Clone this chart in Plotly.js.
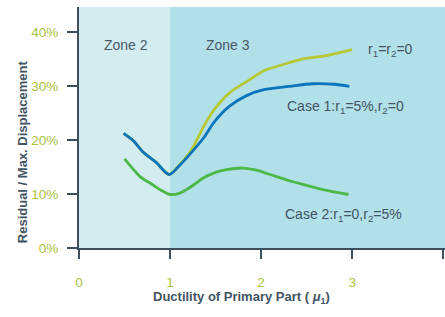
<!DOCTYPE html>
<html>
<head>
<meta charset="utf-8">
<script src="https://cdn.plot.ly/plotly-3.0.1.min.js"></script>
<style>html,body{margin:0;padding:0;background:#fff}#chart{width:445px;height:317px}</style>
</head>
<body>
<div id="chart"></div>
<script>
// Data (ductility mu1 vs residual/max displacement, %)
const case0X = [0.49, 0.6, 0.65, 0.7, 0.85, 0.99, 1.1, 1.2, 1.26, 1.37, 1.48, 1.66, 1.88, 2.03, 2.25, 2.46, 2.72, 3.0];
const case0Y = [21.2, 19.8, 18.8, 17.8, 15.8, 13.6, 15.3, 17.3, 18.9, 22.5, 25.5, 28.8, 31.2, 32.8, 34.0, 35.0, 35.6, 36.7];

const case1X = [0.49, 0.6, 0.65, 0.7, 0.85, 0.99, 1.1, 1.2, 1.37, 1.48, 1.65, 1.84, 2.03, 2.3, 2.57, 2.8, 2.97];
const case1Y = [21.2, 19.8, 18.8, 17.8, 15.8, 13.6, 15.2, 17.0, 20.4, 23.2, 26.2, 28.2, 29.3, 29.9, 30.4, 30.3, 29.9];

const case2X = [0.5, 0.6, 0.67, 0.8, 0.9, 1.0, 1.1, 1.18, 1.27, 1.37, 1.5, 1.62, 1.8, 1.95, 2.1, 2.32, 2.5, 2.68, 2.96];
const case2Y = [16.5, 14.5, 13.2, 11.8, 10.7, 9.9, 10.1, 10.8, 11.8, 13.0, 14.0, 14.5, 14.8, 14.4, 13.6, 12.4, 11.6, 10.8, 9.9];

const seriesNames = ['r<sub>1</sub>=r<sub>2</sub>=0', 'Case 1:r<sub>1</sub>=5%,r<sub>2</sub>=0', 'Case 2:r<sub>1</sub>=0,r<sub>2</sub>=5%'];
const zoneNames = ['Zone 2', 'Zone 3'];
const zoneBounds = [0, 1, 4.02];
const xTicks = [0, 1, 2, 3, 4];
const yTicks = [0, 10, 20, 30, 40];
const yTickText = ['0%', '10%', '20%', '30%', '40%'];
const xTitle = 'Ductility of Primary Part ( <b><i>μ</i></b><sub>1</sub>)';
const yTitle = 'Residual / Max. Displacement';

const axisColor = '#3d4e5d';
const tickColor = '#a9c23d';
const textColor = '#435463';
const font = 'Liberation Sans, Arial, sans-serif';

const traces = [
  {x: case0X, y: case0Y, mode: 'lines', name: seriesNames[0], line: {color: '#b6c834', width: 2.8, shape: 'spline', smoothing: 0.8}},
  {x: case1X, y: case1Y, mode: 'lines', name: seriesNames[1], line: {color: '#0b74ba', width: 2.8, shape: 'spline', smoothing: 0.8}},
  {x: case2X, y: case2Y, mode: 'lines', name: seriesNames[2], line: {color: '#4cb848', width: 2.8, shape: 'spline', smoothing: 0.8}}
];

const layout = {
  width: 445, height: 317,
  margin: {l: 79, r: 0, t: 7, b: 69},
  paper_bgcolor: '#ffffff',
  plot_bgcolor: '#b2e0e9',
  showlegend: false,
  font: {family: font, color: textColor},
  xaxis: {
    range: [0, 4.02], tickvals: xTicks, showgrid: false, zeroline: false,
    showline: true, linecolor: axisColor, linewidth: 2,
    ticks: 'outside', ticklen: 9, tickwidth: 2, tickcolor: axisColor,
    tickfont: {size: 13.5, color: tickColor, family: font},
    ticklabelstandoff: 12, fixedrange: true
  },
  yaxis: {
    range: [0, 44.6], tickvals: yTicks, ticktext: yTickText, showgrid: false, zeroline: false,
    showline: true, linecolor: axisColor, linewidth: 2,
    ticks: 'outside', ticklen: 10, tickwidth: 2, tickcolor: axisColor,
    tickfont: {size: 13.5, color: tickColor, family: font},
    ticklabelstandoff: 6, fixedrange: true
  },
  shapes: [
    {type: 'rect', xref: 'x', yref: 'paper', x0: zoneBounds[0], x1: zoneBounds[1], y0: 0, y1: 1, fillcolor: '#d3ecf0', line: {width: 0}, layer: 'below'},
    {type: 'rect', xref: 'x', yref: 'paper', x0: zoneBounds[1], x1: zoneBounds[2], y0: 0, y1: 1, fillcolor: '#b2e0e9', line: {width: 0}, layer: 'below'}
  ],
  annotations: [
    {text: zoneNames[0], x: 0.52, y: 37.6, xref: 'x', yref: 'y', showarrow: false, font: {size: 14, color: '#4a5a69'}},
    {text: zoneNames[1], x: 1.64, y: 37.6, xref: 'x', yref: 'y', showarrow: false, font: {size: 14, color: '#4a5a69'}},
    {text: seriesNames[0], x: 3.42, y: 36.6, xref: 'x', yref: 'y', showarrow: false, font: {size: 14, color: textColor}},
    {text: seriesNames[1], x: 2.93, y: 26.1, xref: 'x', yref: 'y', showarrow: false, font: {size: 14, color: textColor}},
    {text: seriesNames[2], x: 2.91, y: 6.2, xref: 'x', yref: 'y', showarrow: false, font: {size: 14, color: textColor}},
    {text: '<b>' + xTitle + '</b>', x: 241.5, y: 307.5, xref: 'paper', yref: 'paper', showarrow: false, font: {size: 13, color: textColor}},
    {text: '<b>' + yTitle + '</b>', textangle: -90, x: 12.7, y: 152, showarrow: false, font: {size: 13, color: textColor}}
  ]
};
// convert pixel-placed axis-title annotations to paper coords
const pw = 445 - 79, ph = 317 - 7 - 69;
layout.annotations[5].x = (241.5 - 79) / pw; layout.annotations[5].y = (317 - 69 - 307.5) / ph;
layout.annotations[6].xref = 'paper'; layout.annotations[6].yref = 'paper';
layout.annotations[6].x = (12.7 - 79) / pw; layout.annotations[6].y = (317 - 69 - 152) / ph;

Plotly.newPlot('chart', traces, layout, {displayModeBar: false, staticPlot: true});
</script>
</body>
</html>
